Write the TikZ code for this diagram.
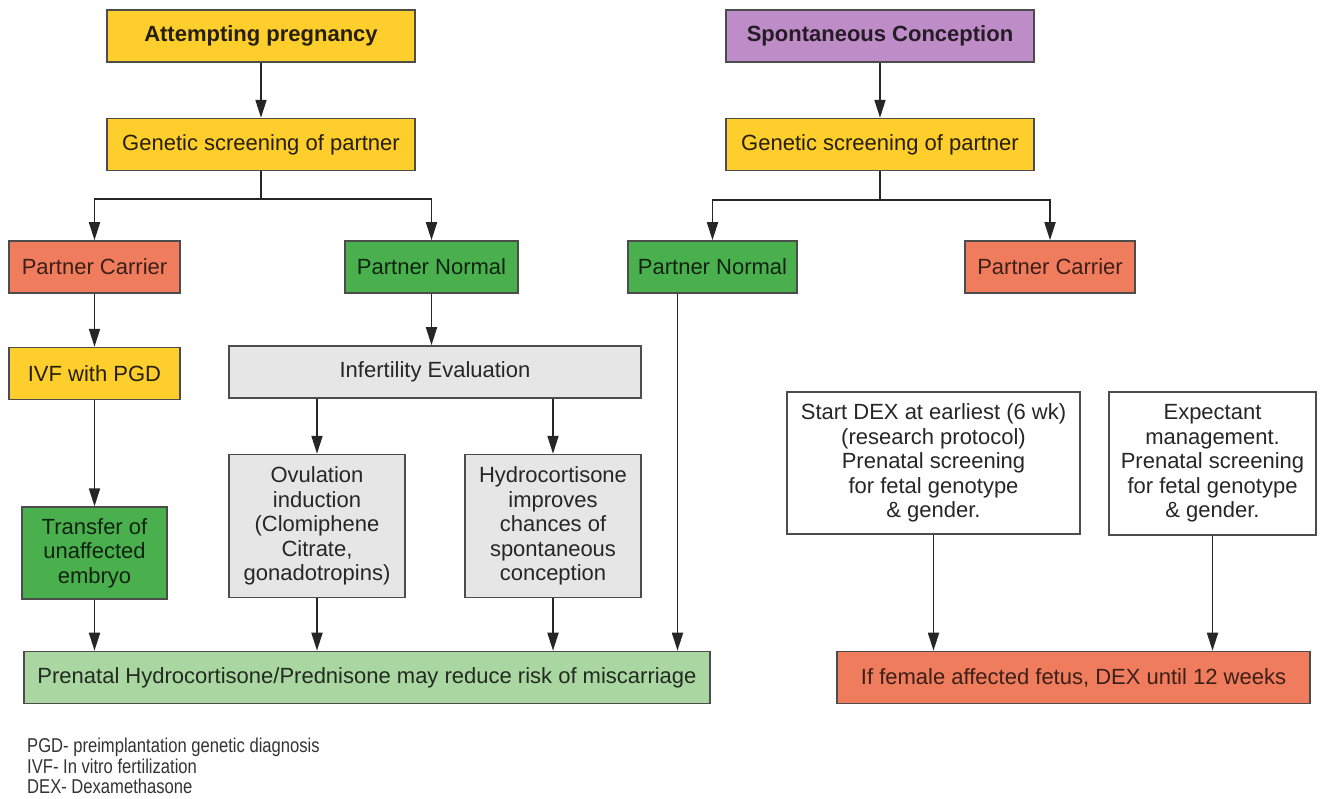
\documentclass[tikz,border=0pt]{standalone}
\usepackage{fontspec}
\setmainfont{Liberation Sans}
\newfontfamily\narrowsans[FakeStretch=0.83]{Liberation Sans}
\usepackage{tikz}
\usetikzlibrary{arrows.meta, positioning, calc}
\definecolor{ochre}{RGB}{254,206,44}
\definecolor{lilac}{RGB}{190,140,198}
\definecolor{coral}{RGB}{240,124,94}
\definecolor{leaf}{RGB}{74,176,78}
\definecolor{mist}{RGB}{230,230,230}
\definecolor{mint}{RGB}{170,214,162}
\tikzstyle{box}    = [rectangle, draw=black!70, line width=1.6pt, inner sep=0pt,
                      minimum height=52pt, align=center, font=\fontsize{22}{24.5}\selectfont]
\tikzstyle{yel}    = [box, fill=ochre, text=ochre!15!black]
\tikzstyle{purple} = [box, fill=lilac, text=lilac!20!black]
\tikzstyle{carrier}= [box, fill=coral, text=coral!25!black]
\tikzstyle{normal} = [box, fill=leaf, text=leaf!20!black]
\tikzstyle{eval}   = [box, fill=mist, text=black!85]
\tikzstyle{plain}  = [box, fill=white, text=black!85]
\tikzstyle{result} = [box, fill=mint, text=mint!20!black]
\tikzstyle{head}   = [font=\fontsize{22}{24.5}\selectfont\bfseries]
\tikzstyle{arr}    = [-{Triangle[length=18pt, width=11pt]}, line width=1.8pt, draw=black!85]

\begin{document}
\begin{tikzpicture}[x=1pt, y=-1pt, node distance=55pt]
    \useasboundingbox (0,0) rectangle (1325,799);

    % attempting pregnancy side
    \node[yel, head, minimum width=308pt] (attempt) at (261,36) {Attempting pregnancy};
    \node[yel, minimum width=308pt, below=of attempt] (genL) {Genetic screening of partner};
    \node[carrier, minimum width=171pt] (carrierL) at (94.5,267) {Partner Carrier};
    \node[normal, minimum width=173pt] (normalL) at (431.5,267) {Partner Normal};
    \node[yel, minimum width=171pt, below=53pt of carrierL] (ivf) {IVF with PGD};
    \node[normal, minimum width=145pt, minimum height=92pt, below=106pt of ivf] (transfer)
        {Transfer of\\unaffected\\embryo};
    \node[eval, minimum width=412pt] (infert) at (435,372) {Infertility Evaluation};
    \node[eval, minimum width=176pt, minimum height=143pt,
          below=55pt of infert.south west, anchor=north west] (ovul)
        {Ovulation\\induction\\(Clomiphene\\Citrate,\\gonadotropins)};
    \node[eval, minimum width=176pt, minimum height=143pt,
          below=55pt of infert.south east, anchor=north east] (hydro)
        {Hydrocortisone\\improves\\chances of\\spontaneous\\conception};
    \node[result, minimum width=686pt] (prenatal) at (367,677.5)
        {Prenatal Hydrocortisone/Prednisone may reduce risk of miscarriage};

    % spontaneous conception side
    \node[purple, head, minimum width=308pt] (spont) at (880,36) {Spontaneous Conception};
    \node[yel, minimum width=308pt, below=of spont] (genR) {Genetic screening of partner};
    \node[normal, minimum width=169pt] (normalR) at (712.5,267) {Partner Normal};
    \node[carrier, minimum width=170pt] (carrierR) at (1050,267) {Partner Carrier};
    \node[plain, minimum width=293pt, minimum height=142pt] (startdex) at (933.5,463)
        {Start DEX at earliest (6 wk)\\(research protocol)\\Prenatal screening\\for fetal genotype\\\& gender.};
    \node[plain, minimum width=207pt, minimum height=143pt] (expect) at (1212.5,463.5)
        {Expectant\\management.\\Prenatal screening\\for fetal genotype\\\& gender.};
    \node[carrier, minimum width=473pt] (dex12) at (1073.5,677.5)
        {If female affected fetus, DEX until 12 weeks};

    % abbreviations
    \node[anchor=north west, align=left, inner sep=0pt, text=black!80,
          font=\narrowsans\fontsize{20}{20.5}\selectfont] (abbrev) at (27,738)
        {PGD- preimplantation genetic diagnosis\\IVF- In vitro fertilization\\DEX- Dexamethasone};

    \draw[arr] (attempt) -- (genL);
    \draw[arr] (genL.south) -- ++(0,28) -| (carrierL.north);
    \draw[arr] (genL.south) -- ++(0,28) -| (normalL.north);
    \draw[arr] (carrierL) -- (ivf);
    \draw[arr] (ivf) -- (transfer);
    \draw[arr] (normalL.south) -- (normalL.south |- infert.north);
    \draw[arr] (ovul.north |- infert.south) -- (ovul.north);
    \draw[arr] (hydro.north |- infert.south) -- (hydro.north);
    \draw[arr] (transfer.south) -- (transfer.south |- prenatal.north);
    \draw[arr] (ovul.south) -- (ovul.south |- prenatal.north);
    \draw[arr] (hydro.south) -- (hydro.south |- prenatal.north);

    \draw[arr] (spont) -- (genR);
    \draw[arr] (genR.south) -- ++(0,29) -| (normalR.north);
    \draw[arr] (genR.south) -- ++(0,29) -| (carrierR.north);
    \coordinate (nrdrop) at ([xshift=-35pt]normalR.south);
    \draw[arr] (nrdrop) -- (nrdrop |- prenatal.north);
    \draw[arr] (startdex.south) -- (startdex.south |- dex12.north);
    \draw[arr] (expect.south) -- (expect.south |- dex12.north);
\end{tikzpicture}
\end{document}
